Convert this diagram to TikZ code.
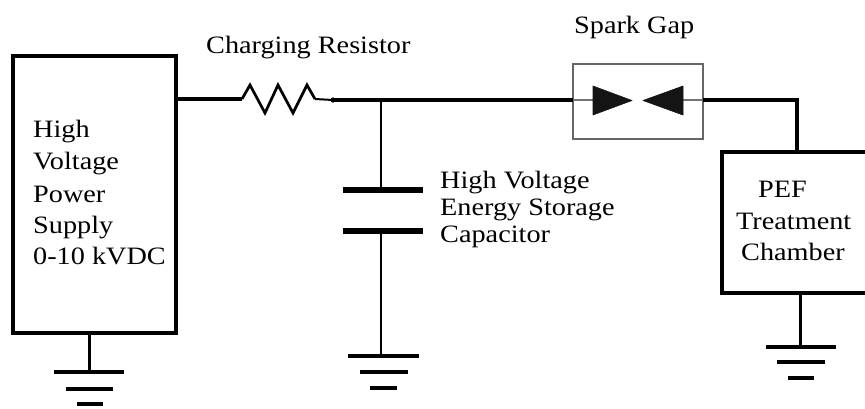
\documentclass[tikz,border=0pt]{standalone}
\usepackage{fontspec}
\setmainfont{Liberation Serif}
\newcommand{\wtxt}[1]{\scalebox{1.13}[1]{#1}}
\begin{document}
\begin{tikzpicture}[x=1pt,y=-1pt,
  lbl/.style={inner sep=0pt, anchor=base west, font=\fontsize{25}{29}\selectfont},
  blockbox/.style={draw, line width=4pt, inner sep=0pt, fill=white},
  wire/.style={line width=4.5pt},
  thinwire/.style={line width=2.5pt},
  gbar/.style={line width=4.5pt},
  plate/.style={line width=6pt},
  gapbox/.style={draw=black!60, line width=2pt, inner sep=0pt},
  gapline/.style={draw=black!55, line width=1.5pt},
  tri/.style={fill=black!92, draw=black!92, line width=0.6pt, line join=round}
]
\useasboundingbox (0,0) rectangle (865,408);

% blocks
\node[blockbox, minimum width=162.5pt, minimum height=277pt] (psu) at (94.25,194) {};
\node[blockbox, minimum width=148pt, minimum height=141pt] (pef) at (796,222.5) {};
\node[gapbox, minimum width=130pt, minimum height=75pt] (gap) at (638,101.5) {};

% key points
\coordinate (a0) at (175.5,99);
\coordinate (r0) at (242,99);
\coordinate (r1) at (315,99);
\coordinate (dot) at (333,100);
\coordinate (j) at (381,100);
\coordinate (gL) at (573,100);
\coordinate (gR) at (703,100);
\coordinate (tr) at (797,100);
\coordinate (pt) at (797,152);
\coordinate (c1) at (381,190);
\coordinate (c2) at (381,230.5);
\coordinate (cg) at (381,356);
\coordinate (lg0) at (89,332.5);
\coordinate (lg) at (89,372);
\coordinate (rg0) at (800,293);
\coordinate (rg) at (800,347);

% left wire and resistor
\draw[wire] (a0) -- (r0);
\draw[thinwire, line join=miter, line width=2.7pt] (r0) -- (250,85) -- (265,113) -- (278,85) -- (293,113) -- (307,85) -- (r1);
\draw[line width=2pt] (r1) -- (dot);
\fill (dot) circle (2.6pt);
\draw[wire] (dot) -- (j) -- (gL);

% spark gap
\draw[gapline] (gL) -- (593,100);
\draw[gapline] (683,100) -- (gR);
\draw[tri] (593,86) -- (632,100.5) -- (593,115) -- cycle;
\draw[tri] (683,86) -- (643,100.5) -- (683,115) -- cycle;

% right wire
\draw[wire, line join=miter] (gR) -- (tr) -- (pt);

% capacitor
\draw[thinwire] (j) -- (c1);
\draw[plate] (343,190) -- (423,190);
\draw[plate] (343,230.5) -- (423,230.5);
\draw[thinwire] (c2) -- (cg);
\draw[gbar] (348,356) -- (419,356);
\draw[gbar] (360,372) -- (408,372);
\draw[gbar] (370,388) -- (397,388);

% left ground
\draw[line width=3pt] (lg0) -- (lg);
\draw[gbar] (54,372) -- (124,372);
\draw[gbar] (66,389) -- (113,389);
\draw[gbar] (77,404) -- (103,404);

% right ground
\draw[line width=3pt] (rg0) -- (rg);
\draw[gbar] (766,347) -- (836,347);
\draw[gbar] (777,362) -- (825,362);
\draw[gbar] (788,378) -- (814,378);

% labels
\node[lbl] (tres) at (206,53) {\wtxt{Charging Resistor}};
\node[lbl] (tgap) at (574,33) {\wtxt{Spark Gap}};
\node[lbl] (tc1) at (440,188) {\wtxt{High Voltage}};
\node[lbl] (tc2) at (440,215) {\wtxt{Energy Storage}};
\node[lbl] (tc3) at (440,242) {\wtxt{Capacitor}};
\node[lbl] (tp1) at (33,137) {\wtxt{High}};
\node[lbl] (tp2) at (33,169) {\wtxt{Voltage}};
\node[lbl] (tp3) at (33,202) {\wtxt{Power}};
\node[lbl] (tp4) at (33,233) {\wtxt{Supply}};
\node[lbl] (tp5) at (33,264) {\wtxt{0-10 kVDC}};
\node[lbl] (tq1) at (758,197) {\wtxt{PEF}};
\node[lbl] (tq2) at (736,229) {\wtxt{Treatment}};
\node[lbl] (tq3) at (741,260) {\wtxt{Chamber}};
\end{tikzpicture}
\end{document}
